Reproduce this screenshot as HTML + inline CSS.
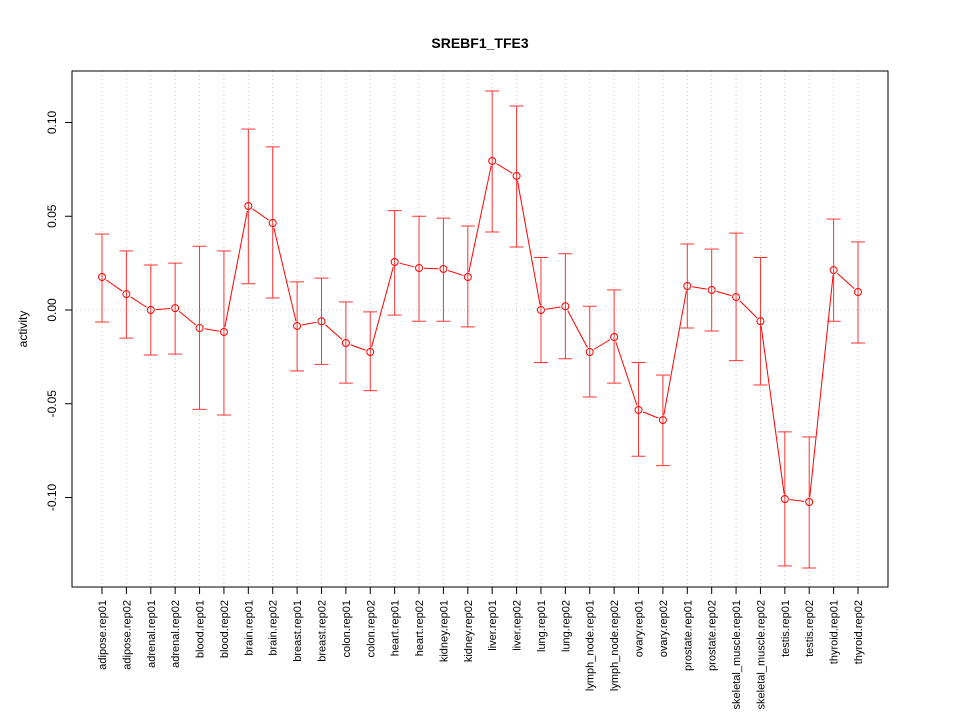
<!DOCTYPE html>
<html><head><meta charset="utf-8"><style>body{margin:0;background:#fff}svg{display:block;font-family:"Liberation Sans",sans-serif}</style></head>
<body>
<svg id="c" width="960" height="720"></svg>
<script>
const categories=["adipose.rep01","adipose.rep02","adrenal.rep01","adrenal.rep02","blood.rep01","blood.rep02","brain.rep01","brain.rep02","breast.rep01","breast.rep02","colon.rep01","colon.rep02","heart.rep01","heart.rep02","kidney.rep01","kidney.rep02","liver.rep01","liver.rep02","lung.rep01","lung.rep02","lymph_node.rep01","lymph_node.rep02","ovary.rep01","ovary.rep02","prostate.rep01","prostate.rep02","skeletal_muscle.rep01","skeletal_muscle.rep02","testis.rep01","testis.rep02","thyroid.rep01","thyroid.rep02"];
const values=[0.0176,0.0085,0,0.001,-0.0096,-0.0117,0.0555,0.0464,-0.0085,-0.006,-0.0176,-0.0224,0.0256,0.0224,0.0219,0.0176,0.0795,0.0715,0,0.002,-0.0224,-0.0144,-0.0533,-0.0587,0.0128,0.0107,0.0069,-0.006,-0.1008,-0.1024,0.0213,0.0096];
const upper=[0.0405,0.0315,0.024,0.025,0.034,0.0315,0.0965,0.087,0.015,0.017,0.0043,-0.001,0.053,0.05,0.049,0.0448,0.1168,0.1088,0.028,0.030,0.002,0.0107,-0.028,-0.0347,0.0352,0.0325,0.041,0.028,-0.065,-0.0677,0.0485,0.0363];
const lower=[-0.0064,-0.015,-0.024,-0.0235,-0.053,-0.056,0.014,0.0064,-0.0325,-0.029,-0.039,-0.043,-0.0027,-0.006,-0.006,-0.009,0.0416,0.0336,-0.028,-0.026,-0.0464,-0.039,-0.078,-0.083,-0.0096,-0.0112,-0.027,-0.040,-0.1365,-0.1376,-0.006,-0.0176];
const yTicks=[0.10,0.05,0.00,-0.05,-0.10];
const yTickLabels=["0.10","0.05","0.00","-0.05","-0.10"];
const NS="http://www.w3.org/2000/svg",svg=document.getElementById('c');
const L=72,R=888,T=71,B=587;
const x=i=>102+i*(858-102)/(categories.length-1);
const y=v=>310-v*1875;
function mk(t,a,p){const e=document.createElementNS(NS,t);for(const k in a)e.setAttribute(k,a[k]);(p||svg).appendChild(e);return e;}
let e;
e=mk('text',{x:480,y:48,'text-anchor':'middle','font-size':14,'font-weight':'bold'});e.textContent='SREBF1_TFE3';


categories.forEach((c,i)=>{e=mk('line',{x1:x(i),x2:x(i),y1:T,y2:B,stroke:'#ccc','stroke-dasharray':'1,3'});

});
e=mk('line',{x1:L,x2:R,y1:y(0),y2:y(0),stroke:'#ccc','stroke-dasharray':'1,3'});


e=mk('rect',{x:L,y:T,width:R-L,height:B-T,fill:'none',stroke:'#000'});


yTicks.forEach((v,i)=>{mk('line',{x1:L,x2:L-7,y1:y(v),y2:y(v),stroke:'#000'});
e=mk('text',{x:0,y:0,'text-anchor':'middle','font-size':12,transform:`translate(56,${y(v)}) rotate(-90)`});e.textContent=yTickLabels[i];

});
e=mk('text',{x:0,y:0,'text-anchor':'middle','font-size':12,transform:'translate(27,329) rotate(-90)'});e.textContent='activity';


mk('line',{x1:x(0),x2:x(categories.length-1),y1:B,y2:B,stroke:'#000'});
categories.forEach((c,i)=>{mk('line',{x1:x(i),x2:x(i),y1:B,y2:B+7,stroke:'#000'});
e=mk('text',{x:0,y:0,'text-anchor':'end','font-size':11,transform:`translate(${x(i)+4},600) rotate(-90)`});e.textContent=c;

});
categories.forEach((c,i)=>{const g=mk('g',{stroke:'#f33','stroke-width':1});


mk('line',{x1:x(i),x2:x(i),y1:y(upper[i]),y2:y(lower[i])},g);
mk('line',{x1:x(i)-7,x2:x(i)+7,y1:y(upper[i]),y2:y(upper[i])},g);
mk('line',{x1:x(i)-7,x2:x(i)+7,y1:y(lower[i]),y2:y(lower[i])},g);});
for(let i=0;i<values.length-1;i++){const x1=x(i),y1=y(values[i]),x2=x(i+1),y2=y(values[i+1]);const d=Math.hypot(x2-x1,y2-y1);if(d<10)continue;const ux=(x2-x1)/d,uy=(y2-y1)/d;
e=mk('line',{x1:x1+ux*5,y1:y1+uy*5,x2:x2-ux*5,y2:y2-uy*5,stroke:'#f00'});

}
values.forEach((v,i)=>{e=mk('circle',{cx:x(i),cy:y(v),r:3.5,fill:'none',stroke:'#f00'});

});
</script>
</body></html>
